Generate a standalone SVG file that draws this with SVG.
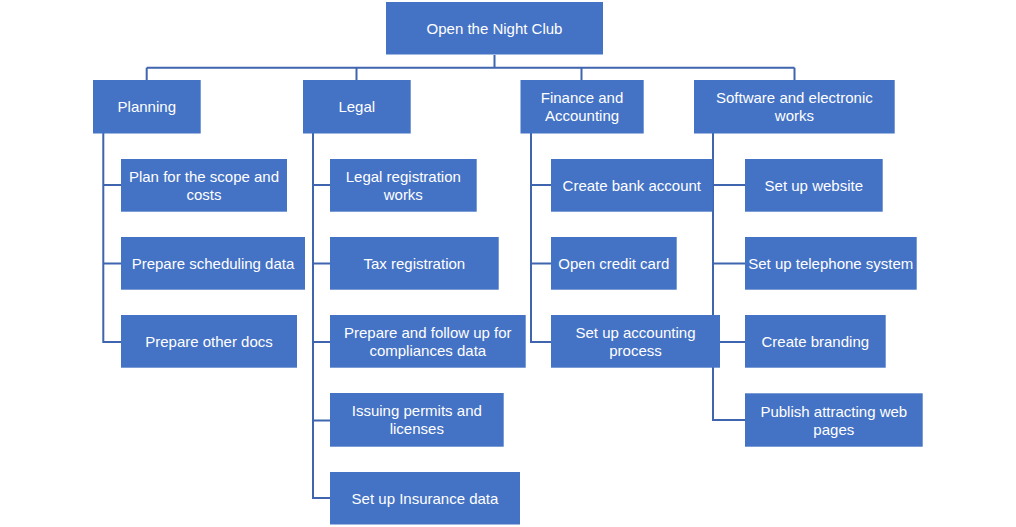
<svg xmlns="http://www.w3.org/2000/svg" width="1016" height="527" viewBox="0 0 1016 527">
<style>
.box{fill:#4472C4}
.t{font-family:"Liberation Sans",Arial,sans-serif;font-size:15px;fill:#FFFFFF;text-anchor:middle;dominant-baseline:central}
.c{fill:none;stroke:#3E65AD;stroke-width:2}
</style>
<rect width="1016" height="527" fill="#FFFFFF"/>
<g id="connectors">
<path class="c" d="M494.5,55 V67.7 M146.7,67.7 H794.5 M146.7,67.7 V80 M356.5,67.7 V80 M581.5,67.7 V80 M794.5,67.7 V80"/>
<path class="c" d="M103.3,133 V342 H121 M103.3,185 H121 M103.3,263.5 H121"/>
<path class="c" d="M313,133 V498 H330 M313,185 H330 M313,263.5 H330 M313,342 H330 M313,420.5 H330"/>
<path class="c" d="M531,133 V342 H551 M531,185 H551 M531,263.5 H551"/>
<path class="c" d="M713,133 V420 H745 M713,185 H745 M713,263.5 H745 M713,342 H745"/>
</g>
<g id="root"><rect class="box" x="386" y="2" width="217" height="52.5"/><text class="t" x="494.5" y="28.5">Open the Night Club</text></g>
<g id="planning"><rect class="box" x="93" y="80" width="107.7" height="53.5"/><text class="t" x="146.8" y="106.8">Planning</text></g>
<g id="legal"><rect class="box" x="303" y="80" width="107.7" height="53.5"/><text class="t" x="356.8" y="106.8">Legal</text></g>
<g id="finance"><rect class="box" x="520.5" y="80" width="123.2" height="53.5"/><text class="t" x="582" y="97.8">Finance and</text><text class="t" x="582" y="115.8">Accounting</text></g>
<g id="software"><rect class="box" x="694" y="80" width="200.7" height="53.5"/><text class="t" x="794.4" y="97.8">Software and electronic</text><text class="t" x="794.4" y="115.8">works</text></g>
<g id="plan-scope"><rect class="box" x="121" y="159" width="166" height="52.7"/><text class="t" x="204" y="176.3">Plan for the scope and</text><text class="t" x="204" y="194.3">costs</text></g>
<g id="prep-sched"><rect class="box" x="121" y="237" width="184" height="52.7"/><text class="t" x="213" y="263.3">Prepare scheduling data</text></g>
<g id="prep-docs"><rect class="box" x="121" y="315" width="176" height="52.7"/><text class="t" x="209" y="341.3">Prepare other docs</text></g>
<g id="legal-reg"><rect class="box" x="330" y="159" width="146.7" height="52.7"/><text class="t" x="403.3" y="176.3">Legal registration</text><text class="t" x="403.3" y="194.3">works</text></g>
<g id="tax-reg"><rect class="box" x="330" y="237" width="168.7" height="52.7"/><text class="t" x="414.3" y="263.3">Tax registration</text></g>
<g id="compliance"><rect class="box" x="330" y="315" width="195.7" height="52.7"/><text class="t" x="427.8" y="332.3">Prepare and follow up for</text><text class="t" x="427.8" y="350.3">compliances data</text></g>
<g id="permits"><rect class="box" x="330" y="393" width="173.7" height="53.7"/><text class="t" x="416.8" y="410.8">Issuing permits and</text><text class="t" x="416.8" y="428.8">licenses</text></g>
<g id="insurance"><rect class="box" x="330" y="472" width="190" height="52.5"/><text class="t" x="425" y="498.3">Set up Insurance data</text></g>
<g id="bank"><rect class="box" x="551" y="159" width="161.7" height="52.7"/><text class="t" x="631.8" y="185.3">Create bank account</text></g>
<g id="credit"><rect class="box" x="551" y="237" width="125.7" height="52.7"/><text class="t" x="613.8" y="263.3">Open credit card</text></g>
<g id="accounting"><rect class="box" x="551" y="315" width="169" height="52.7"/><text class="t" x="635.5" y="332.3">Set up accounting</text><text class="t" x="635.5" y="350.3">process</text></g>
<g id="website"><rect class="box" x="745" y="159" width="137.7" height="52.7"/><text class="t" x="813.8" y="185.3">Set up website</text></g>
<g id="telephone"><rect class="box" x="745" y="237" width="171.7" height="52.7"/><text class="t" x="830.8" y="263.3">Set up telephone system</text></g>
<g id="branding"><rect class="box" x="745" y="315" width="140.7" height="52.7"/><text class="t" x="815.3" y="341.3">Create branding</text></g>
<g id="publish"><rect class="box" x="745" y="393.3" width="177.7" height="53.4"/><text class="t" x="833.8" y="411">Publish attracting web</text><text class="t" x="833.8" y="429">pages</text></g>
</svg>
